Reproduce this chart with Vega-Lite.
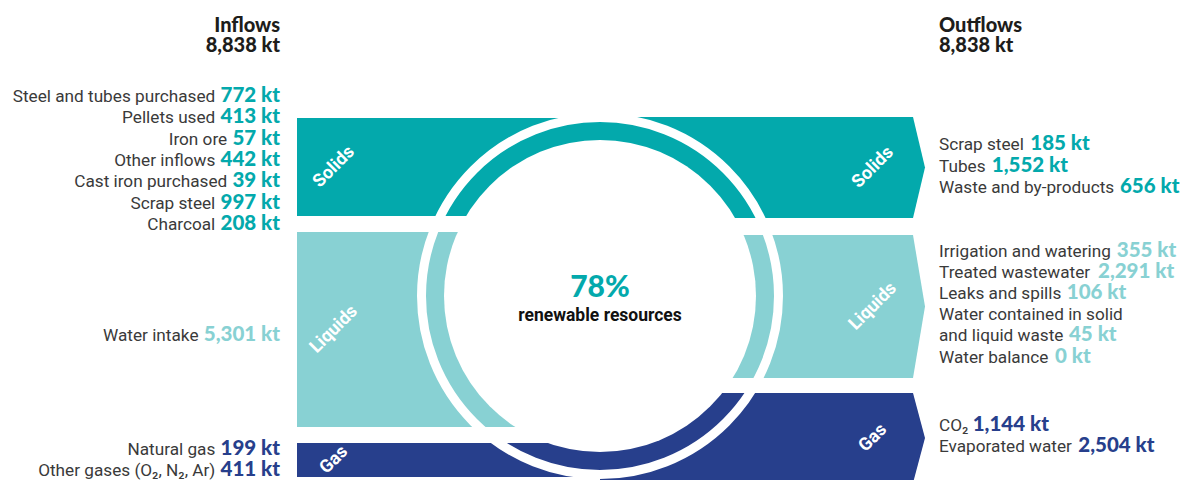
{
  "$schema": "https://vega.github.io/schema/vega-lite/v6.json",
  "width": 1183,
  "height": 480,
  "padding": 0,
  "autosize": {"type": "none"},
  "background": "#ffffff",
  "config": {"view": {"stroke": null}},
  "datasets": {
    "inflowBands": [
      {"side": "Inflows", "phase": "Solids", "from": 118, "to": 216},
      {"side": "Inflows", "phase": "Liquids", "from": 232, "to": 427},
      {"side": "Inflows", "phase": "Gas", "from": 443, "to": 477}
    ],
    "outflowArrows": [
      {"phase": "Solids", "vertex": "top", "yv": 117, "xv": 913},
      {"phase": "Solids", "vertex": "tip", "yv": 167.5, "xv": 925},
      {"phase": "Solids", "vertex": "bottom", "yv": 218, "xv": 913},
      {"phase": "Liquids", "vertex": "top", "yv": 235, "xv": 913},
      {"phase": "Liquids", "vertex": "tip", "yv": 306.5, "xv": 925},
      {"phase": "Liquids", "vertex": "bottom", "yv": 378, "xv": 913},
      {"phase": "Gas", "vertex": "top", "yv": 393, "xv": 913},
      {"phase": "Gas", "vertex": "tip", "yv": 438, "xv": 925},
      {"phase": "Gas", "vertex": "bottom", "yv": 483, "xv": 913}
    ],
    "flows": [
      {"side": "in", "phase": "Solids", "item": "Steel and tubes purchased", "kt": 772, "line": 0},
      {"side": "in", "phase": "Solids", "item": "Pellets used", "kt": 413, "line": 1},
      {"side": "in", "phase": "Solids", "item": "Iron ore", "kt": 57, "line": 2},
      {"side": "in", "phase": "Solids", "item": "Other inflows", "kt": 442, "line": 3},
      {"side": "in", "phase": "Solids", "item": "Cast iron purchased", "kt": 39, "line": 4},
      {"side": "in", "phase": "Solids", "item": "Scrap steel", "kt": 997, "line": 5},
      {"side": "in", "phase": "Solids", "item": "Charcoal", "kt": 208, "line": 6},
      {"side": "in", "phase": "Liquids", "item": "Water intake", "kt": 5301, "line": 7},
      {"side": "in", "phase": "Gas", "item": "Natural gas", "kt": 199, "line": 8},
      {"side": "in", "phase": "Gas", "item": "Other gases (O₂, N₂, Ar)", "kt": 411, "line": 9},
      {"side": "out", "phase": "Solids", "item": "Scrap steel", "kt": 185, "line": 0},
      {"side": "out", "phase": "Solids", "item": "Tubes", "kt": 1552, "line": 1},
      {"side": "out", "phase": "Solids", "item": "Waste and by-products", "kt": 656, "line": 2},
      {"side": "out", "phase": "Liquids", "item": "Irrigation and watering", "kt": 355, "line": 3},
      {"side": "out", "phase": "Liquids", "item": "Treated wastewater", "kt": 2291, "line": 4},
      {"side": "out", "phase": "Liquids", "item": "Leaks and spills", "kt": 106, "line": 5},
      {"side": "out", "phase": "Liquids", "item": "Water contained in solid\nand liquid waste", "kt": 45, "line": 6},
      {"side": "out", "phase": "Liquids", "item": "Water balance", "kt": 0, "line": 8},
      {"side": "out", "phase": "Gas", "item": "CO₂", "kt": 1144, "line": 9},
      {"side": "out", "phase": "Gas", "item": "Evaporated water", "kt": 2504, "line": 10}
    ],
    "totals": [
      {"side": "Inflows", "kt": 8838},
      {"side": "Outflows", "kt": 8838}
    ],
    "centre": [
      {"share": 0.78, "caption": "renewable resources"}
    ]
  },
  "resolve": {"scale": {"y": "independent"}},
  "layer": [
    {
      "data": {"name": "inflowBands"},
      "mark": {"type": "rect"},
      "encoding": {
        "x": {"datum": 297, "type": "quantitative", "scale": {"domain": [0, 1183], "nice": false, "zero": false}, "axis": null},
        "x2": {"datum": 600},
        "y": {"field": "from", "type": "quantitative", "scale": {"domain": [0, 480], "reverse": true, "nice": false, "zero": false}, "axis": null},
        "y2": {"field": "to"},
        "color": {"field": "phase", "type": "nominal", "scale": {"domain": ["Solids", "Liquids", "Gas"], "range": ["#03A9AC", "#88D1D3", "#273F8C"]}, "legend": null}
      }
    },
    {
      "data": {"name": "outflowArrows"},
      "mark": {"type": "area", "orient": "horizontal"},
      "encoding": {
        "y": {"field": "yv", "type": "quantitative", "scale": {"domain": [0, 480], "reverse": true, "nice": false, "zero": false}, "axis": null},
        "x": {"field": "xv", "type": "quantitative", "stack": null, "scale": {"domain": [0, 1183], "nice": false, "zero": false}, "axis": null},
        "x2": {"datum": 600},
        "color": {"field": "phase", "type": "nominal", "scale": {"domain": ["Solids", "Liquids", "Gas"], "range": ["#03A9AC", "#88D1D3", "#273F8C"]}, "legend": null}
      }
    },
    {
      "data": {"name": "centre"},
      "mark": {"type": "point", "shape": "circle", "size": 127449, "filled": false, "stroke": "#ffffff", "strokeWidth": 9, "opacity": 1},
      "encoding": {
        "x": {"datum": 600, "type": "quantitative", "scale": {"domain": [0, 1183], "nice": false, "zero": false}, "axis": null},
        "y": {"datum": 296, "type": "quantitative", "scale": {"domain": [0, 480], "reverse": true, "nice": false, "zero": false}, "axis": null}
      }
    },
    {
      "data": {"name": "centre"},
      "mark": {"type": "point", "shape": "circle", "size": 97344, "filled": true, "color": "#ffffff", "strokeWidth": 0, "opacity": 1},
      "encoding": {
        "x": {"datum": 600, "type": "quantitative", "scale": {"domain": [0, 1183], "nice": false, "zero": false}, "axis": null},
        "y": {"datum": 296, "type": "quantitative", "scale": {"domain": [0, 480], "reverse": true, "nice": false, "zero": false}, "axis": null}
      }
    },
    {
      "data": {"name": "inflowBands"},
      "transform": [{"fold": ["from", "to"]}],
      "mark": {"type": "text", "angle": 315, "align": "center", "baseline": "middle", "font": "Roboto", "fontWeight": "bold", "fontSize": 18, "fill": "#ffffff"},
      "encoding": {
        "x": {"datum": 334, "type": "quantitative", "scale": {"domain": [0, 1183], "nice": false, "zero": false}, "axis": null},
        "y": {"field": "value", "aggregate": "mean", "type": "quantitative", "scale": {"domain": [0, 480], "reverse": true, "nice": false, "zero": false}, "axis": null},
        "text": {"field": "phase", "type": "nominal"}
      }
    },
    {
      "data": {"name": "outflowArrows"},
      "transform": [{"filter": "datum.vertex == 'tip'"}],
      "mark": {"type": "text", "angle": 315, "align": "center", "baseline": "middle", "font": "Roboto", "fontWeight": "bold", "fontSize": 18, "fill": "#ffffff"},
      "encoding": {
        "x": {"datum": 873, "type": "quantitative", "scale": {"domain": [0, 1183], "nice": false, "zero": false}, "axis": null},
        "y": {"field": "yv", "type": "quantitative", "scale": {"domain": [0, 480], "reverse": true, "nice": false, "zero": false}, "axis": null},
        "text": {"field": "phase", "type": "nominal"}
      }
    },
    {
      "data": {"name": "centre"},
      "mark": {"type": "text", "align": "center", "baseline": "alphabetic", "font": "Lato", "fontWeight": 900, "fontSize": 30, "fill": "#03A9AC", "text": {"expr": "format(datum.share, '.0%')"}},
      "encoding": {
        "x": {"datum": 600, "type": "quantitative", "scale": {"domain": [0, 1183], "nice": false, "zero": false}, "axis": null},
        "y": {"datum": 297, "type": "quantitative", "scale": {"domain": [0, 480], "reverse": true, "nice": false, "zero": false}, "axis": null}
      }
    },
    {
      "data": {"name": "centre"},
      "mark": {"type": "text", "align": "center", "baseline": "alphabetic", "font": "Roboto", "fontWeight": "bold", "fontSize": 17.5, "fill": "#111111"},
      "encoding": {
        "x": {"datum": 600, "type": "quantitative", "scale": {"domain": [0, 1183], "nice": false, "zero": false}, "axis": null},
        "y": {"datum": 321, "type": "quantitative", "scale": {"domain": [0, 480], "reverse": true, "nice": false, "zero": false}, "axis": null},
        "text": {"field": "caption", "type": "nominal"}
      }
    },
    {
      "data": {"name": "totals"},
      "transform": [{"filter": "datum.side == 'Inflows'"}],
      "mark": {"type": "text", "align": "right", "baseline": "alphabetic", "font": "Lato", "fontWeight": 900, "fontSize": 20, "lineHeight": 20.5, "fill": "#1d1d1b", "text": {"expr": "[datum.side, format(datum.kt, ',') + ' kt']"}},
      "encoding": {
        "x": {"datum": 280, "type": "quantitative", "scale": {"domain": [0, 1183], "nice": false, "zero": false}, "axis": null},
        "y": {"datum": 31.5, "type": "quantitative", "scale": {"domain": [0, 480], "reverse": true, "nice": false, "zero": false}, "axis": null}
      }
    },
    {
      "data": {"name": "totals"},
      "transform": [{"filter": "datum.side == 'Outflows'"}],
      "mark": {"type": "text", "align": "left", "baseline": "alphabetic", "font": "Lato", "fontWeight": 900, "fontSize": 20, "lineHeight": 20.5, "fill": "#1d1d1b", "text": {"expr": "[datum.side, format(datum.kt, ',') + ' kt']"}},
      "encoding": {
        "x": {"datum": 939, "type": "quantitative", "scale": {"domain": [0, 1183], "nice": false, "zero": false}, "axis": null},
        "y": {"datum": 31.5, "type": "quantitative", "scale": {"domain": [0, 480], "reverse": true, "nice": false, "zero": false}, "axis": null}
      }
    },
    {
      "data": {"name": "flows"},
      "transform": [{"filter": "datum.side == 'in'"}],
      "mark": {"type": "text", "align": "right", "baseline": "alphabetic", "font": "Roboto", "fontSize": 17.2, "fill": "#3a3a3a", "dx": {"expr": "-(6 + 11.9*length(format(datum.kt,'d')) + 4.9*(length(format(datum.kt,','))-length(format(datum.kt,'d'))) + 23)"}},
      "encoding": {
        "x": {"datum": 280, "type": "quantitative", "scale": {"domain": [0, 1183], "nice": false, "zero": false}, "axis": null},
        "y": {"field": "line", "type": "quantitative", "scale": {"domain": [0, 6, 7, 8, 9], "range": [102, 230, 340.5, 455, 476], "nice": false, "zero": false}, "axis": null},
        "text": {"field": "item", "type": "nominal"}
      }
    },
    {
      "data": {"name": "flows"},
      "transform": [{"filter": "datum.side == 'in'"}],
      "mark": {"type": "text", "align": "right", "baseline": "alphabetic", "font": "Lato", "fontWeight": 900, "fontSize": 20.5, "text": {"expr": "format(datum.kt, ',') + ' kt'"}},
      "encoding": {
        "x": {"datum": 280, "type": "quantitative", "scale": {"domain": [0, 1183], "nice": false, "zero": false}, "axis": null},
        "y": {"field": "line", "type": "quantitative", "scale": {"domain": [0, 6, 7, 8, 9], "range": [102, 230, 340.5, 455, 476], "nice": false, "zero": false}, "axis": null},
        "color": {"field": "phase", "type": "nominal", "scale": {"domain": ["Solids", "Liquids", "Gas"], "range": ["#03A9AC", "#88D1D3", "#273F8C"]}, "legend": null}
      }
    },
    {
      "data": {"name": "flows"},
      "transform": [{"filter": "datum.side == 'out' && indexof(datum.item, '\\n') >= 0"}],
      "mark": {"type": "text", "align": "left", "baseline": "alphabetic", "font": "Roboto", "fontSize": 17.2, "fill": "#3a3a3a", "text": {"expr": "split(datum.item,'\\n')[0]"}},
      "encoding": {
        "x": {"datum": 939, "type": "quantitative", "scale": {"domain": [0, 1183], "nice": false, "zero": false}, "axis": null},
        "y": {"field": "line", "type": "quantitative", "scale": {"domain": [0, 2, 3, 8, 9, 10], "range": [150, 193, 256.5, 362.5, 430.5, 452], "nice": false, "zero": false}, "axis": null}
      }
    },
    {
      "data": {"name": "flows"},
      "transform": [{"filter": "datum.side == 'out'"}],
      "mark": {"type": "text", "align": "left", "baseline": "alphabetic", "font": "Roboto", "fontSize": 17.2, "fill": "#3a3a3a", "text": {"expr": "peek(split(datum.item,'\\n'))"}, "dy": {"expr": "(length(split(datum.item,'\\n'))-1)*21.2"}},
      "encoding": {
        "x": {"datum": 939, "type": "quantitative", "scale": {"domain": [0, 1183], "nice": false, "zero": false}, "axis": null},
        "y": {"field": "line", "type": "quantitative", "scale": {"domain": [0, 2, 3, 8, 9, 10], "range": [150, 193, 256.5, 362.5, 430.5, 452], "nice": false, "zero": false}, "axis": null}
      }
    },
    {
      "data": {"name": "flows"},
      "transform": [{"filter": "datum.side == 'out'"}],
      "mark": {
        "type": "text", "align": "left", "baseline": "alphabetic", "font": "Lato", "fontWeight": 900, "fontSize": 20.5,
        "text": {"expr": "format(datum.kt, ',') + ' kt'"},
        "dy": {"expr": "(length(split(datum.item,'\\n'))-1)*21.2"},
        "dx": {"expr": "5.5 + 0.0172*(550*length(peek(split(datum.item,'\\n'))) - 300*(length(peek(split(datum.item,'\\n')))-length(replace(peek(split(datum.item,'\\n')),regexp('[ijl ,-]','g'),''))) - 210*(length(peek(split(datum.item,'\\n')))-length(replace(peek(split(datum.item,'\\n')),regexp('[ftr()]','g'),''))) - 40*(length(peek(split(datum.item,'\\n')))-length(replace(peek(split(datum.item,'\\n')),regexp('[cksvxyz]','g'),''))) + 336*(length(peek(split(datum.item,'\\n')))-length(replace(peek(split(datum.item,'\\n')),regexp('m','g'),''))) + 187*(length(peek(split(datum.item,'\\n')))-length(replace(peek(split(datum.item,'\\n')),regexp('w','g'),''))) + 40*(length(peek(split(datum.item,'\\n')))-length(replace(peek(split(datum.item,'\\n')),regexp('[ST]','g'),''))) + 340*(length(peek(split(datum.item,'\\n')))-length(replace(peek(split(datum.item,'\\n')),regexp('W','g'),''))) - 268*(length(peek(split(datum.item,'\\n')))-length(replace(peek(split(datum.item,'\\n')),regexp('I','g'),''))) + 87*(length(peek(split(datum.item,'\\n')))-length(replace(peek(split(datum.item,'\\n')),regexp('C','g'),''))) + 124*(length(peek(split(datum.item,'\\n')))-length(replace(peek(split(datum.item,'\\n')),regexp('O','g'),''))) - 220*(length(peek(split(datum.item,'\\n')))-length(replace(peek(split(datum.item,'\\n')),regexp('₂','g'),''))) - 30*(length(peek(split(datum.item,'\\n')))-length(replace(peek(split(datum.item,'\\n')),regexp('[EL]','g'),''))))"}
      },
      "encoding": {
        "x": {"datum": 939, "type": "quantitative", "scale": {"domain": [0, 1183], "nice": false, "zero": false}, "axis": null},
        "y": {"field": "line", "type": "quantitative", "scale": {"domain": [0, 2, 3, 8, 9, 10], "range": [150, 193, 256.5, 362.5, 430.5, 452], "nice": false, "zero": false}, "axis": null},
        "color": {"field": "phase", "type": "nominal", "scale": {"domain": ["Solids", "Liquids", "Gas"], "range": ["#03A9AC", "#88D1D3", "#273F8C"]}, "legend": null}
      }
    }
  ]
}
